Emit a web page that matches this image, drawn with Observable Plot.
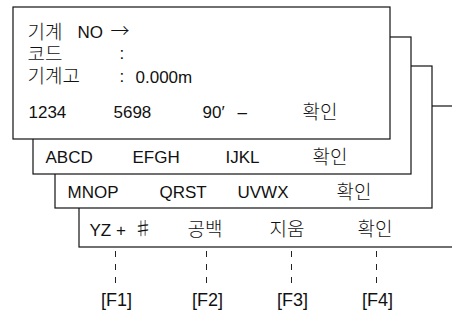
<!DOCTYPE html>
<html>
<head>
<meta charset="utf-8">
<script src="https://cdn.jsdelivr.net/npm/d3@7"></script>
<script src="https://cdn.jsdelivr.net/npm/@observablehq/plot@0.6"></script>
<style>
  html, body { margin: 0; padding: 0; background: #fff; }
  #chart svg { display: block; }
</style>
</head>
<body>
<div id="chart"></div>
<script>
// Screen panels (back to front), in diagram units (pixels of the 452x316 page)
const panelNames  = ["YZ panel", "MNOP panel", "ABCD panel", "main screen"];
const panelLeft   = [79, 55, 33, 13];
const panelTop    = [106, 66, 37, 7];
const panelRight  = [470, 432, 411, 390];
const panelBottom = [247, 208, 174, 139];

// Text items
const labelText = [
  "기계", "NO", "→", "코드", ":", "기계고", ":", "0.000m",
  "1234", "5698", "90′", "–", "확인",
  "ABCD", "EFGH", "IJKL", "확인",
  "MNOP", "QRST", "UVWX", "확인",
  "YZ +", "♯", "공백", "지움", "확인"
];
const labelX = [
  27, 77, 110, 27, 119, 27, 119, 135,
  28, 113, 202, 237, 302,
  45, 132, 225, 312,
  67, 159, 237, 336,
  89, 133, 187, 269, 357
];
const labelY = [
  32, 32, 31, 54, 53, 76, 76, 77,
  112, 112, 112, 112, 112,
  157, 157, 157, 157,
  192, 192, 192, 192,
  230, 229, 229, 229, 229
];

// Function keys
const keyNames = ["[F1]", "[F2]", "[F3]", "[F4]"];
const keyX = [115, 206, 291, 376];
const keyLineTop = [251, 251, 251, 251];
const keyLineBottom = [289, 289, 289, 289];
const keyLabelY = [300, 300, 300, 300];

const panels = panelNames.map((name, i) => ({
  name, x1: panelLeft[i], x2: panelRight[i], y1: panelTop[i], y2: panelBottom[i]
}));
const labels = labelText.map((t, i) => ({ t, x: labelX[i], y: labelY[i] }));
const keys = keyNames.map((k, i) => ({
  k, x: keyX[i], y1: keyLineTop[i], y2: keyLineBottom[i], ly: keyLabelY[i]
}));

const latin = "'Liberation Sans', 'Noto Sans CJK KR', sans-serif";
const isWide = (s) => /[\uAC00-\uD7A3\u2192\u266F]/.test(s);
const latinLabels = labels.filter(d => !isWide(d.t));
const wideLabels = labels.filter(d => isWide(d.t));

const svg = Plot.plot({
  width: 452,
  height: 316,
  margin: 0,
  style: { background: "#fff", color: "#000" },
  x: { domain: [0, 452], range: [0, 452], axis: null },
  y: { domain: [0, 316], range: [0, 316], axis: null },
  marks: [
    Plot.rect(panels, {
      x1: "x1", x2: "x2", y1: "y1", y2: "y2",
      fill: "#fff", stroke: "#111", strokeWidth: 1.2
    }),
    Plot.ruleX(keys, {
      x: "x", y1: "y1", y2: "y2",
      stroke: "#222", strokeWidth: 1, strokeDasharray: "6,7"
    }),
    Plot.text(latinLabels, {
      x: "x", y: "y", text: "t",
      textAnchor: "start", fontSize: 17, fontFamily: latin, fill: "#111"
    }),
    Plot.text(wideLabels, {
      x: "x", y: "y", text: "t",
      textAnchor: "start", fontSize: 19, fontWeight: 300,
      fontFamily: "'Noto Sans CJK KR', sans-serif", fill: "#111"
    }),
    Plot.text(keys, {
      x: "x", y: "ly", text: "k", ariaLabel: "function keys",
      textAnchor: "middle", fontSize: 18, fontFamily: latin, fill: "#111", dx: 1
    })
  ]
});

d3.select(svg).selectAll('g[aria-label="function keys"] text')
  .style("letter-spacing", "2px");

document.getElementById("chart").appendChild(svg);
</script>
</body>
</html>
